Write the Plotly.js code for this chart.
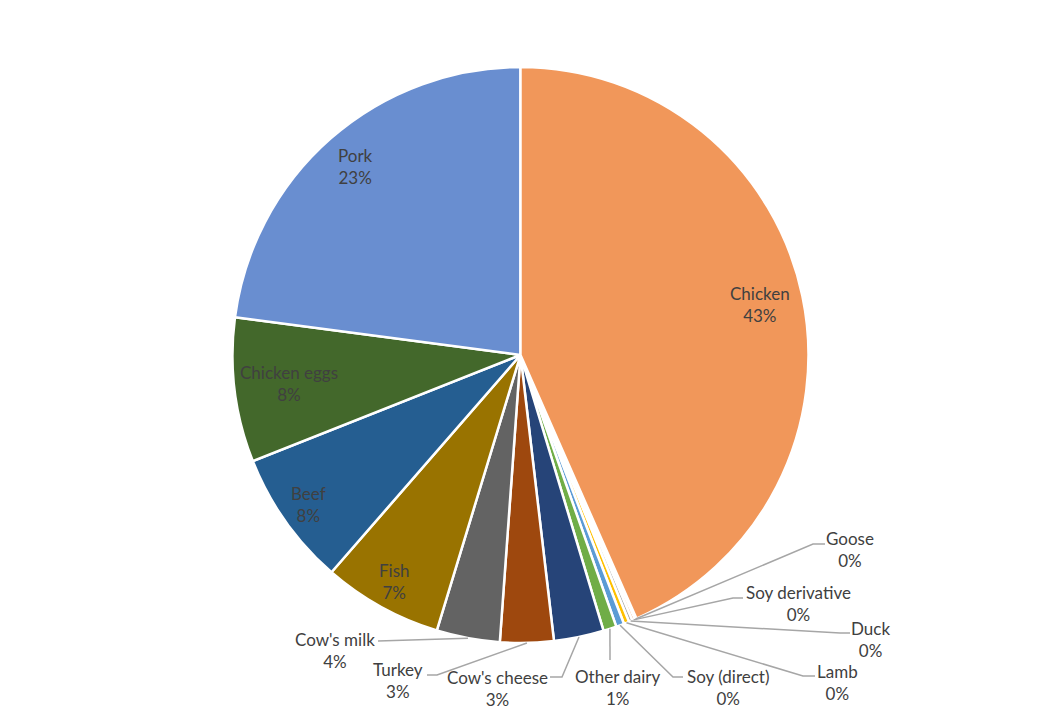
<!DOCTYPE html>
<html>
<head>
<meta charset="utf-8">
<script src="https://cdn.plot.ly/plotly-3.0.1.min.js"></script>
<style>
  html, body { margin: 0; padding: 0; background: #fff; }
  #chart { width: 1041px; height: 714px; }
</style>
</head>
<body>
<div id="chart"></div>
<script>
// data, ascending like the source sheet (first slice starts where Chicken ends)
const categories = ['Goose', 'Soy derivative', 'Duck', 'Lamb', 'Soy (direct)', 'Other dairy',
  "Cow's cheese", 'Turkey', "Cow's milk", 'Fish', 'Beef', 'Chicken eggs', 'Pork', 'Chicken'];
const shares = [0.1, 0.15, 0.2, 0.3, 0.45, 0.74, 2.8, 3.0, 3.55, 6.7, 7.6, 8.1, 22.9, 43.4];
const colors = ['#4472C4', '#ED7D31', '#A5A5A5', '#FFC000', '#5B9BD5', '#70AD47',
  '#264478', '#9E480E', '#636363', '#997300', '#255E91', '#43682B', '#698ED0', '#F1975A'];

// layout of the figure (pixels)
const W = 1041, H = 714;
const CX = 520.5, CY = 355, R = 288;

// labels drawn inside the slice, radius as a fraction of R
const insideR = {'Fish': 0.9, 'Beef': 0.9, 'Chicken eggs': 0.81, 'Pork': 0.87, 'Chicken': 0.85};

// labels drawn outside with a leader line: text centre, then line end + elbow
const outside = {
  'Goose':          {text: [850, 549], line: [[825, 544], [813, 544]]},
  'Soy derivative': {text: [798, 603], line: [[743, 598], [733, 598]]},
  'Duck':           {text: [870, 639], line: [[850, 633], [840, 633]]},
  'Lamb':           {text: [837, 682], line: [[815, 676], [803, 676]]},
  'Soy (direct)':   {text: [728, 687], line: [[683, 677], [673, 677]]},
  'Other dairy':    {text: [618, 687], line: [[610, 660], [610, 660]]},
  "Cow's cheese":   {text: [497, 688], line: [[550, 677], [562, 677]]},
  'Turkey':         {text: [398, 680], line: [[427, 675], [437, 675]]},
  "Cow's milk":     {text: [335, 650], line: [[378, 641], [378, 641]]}
};

const fx = px => px / W;
const fy = py => 1 - py / H;

const total = shares.reduce((p, c) => p + c, 0);
const rotation = 360 * shares[shares.length - 1] / total;

// mid angle of every slice, clockwise from 12 o'clock
let acc = 0;
const midAngle = shares.map(v => {
  let a = rotation + 360 * (acc + v / 2) / total;
  acc += v;
  return a % 360;
});

const polar = (ang, f) => {
  let t = ang * Math.PI / 180;
  return [CX + R * f * Math.sin(t), CY - R * f * Math.cos(t)];
};

let annotations = [];
let shapes = [];
categories.forEach((c, i) => {
  let txt = c + '<br>' + Math.round(100 * shares[i] / total) + '%';
  if (insideR[c]) {
    let p = polar(midAngle[i], insideR[c]);
    annotations.push({x: fx(p[0]), y: fy(p[1]), xref: 'paper', yref: 'paper',
      text: txt, showarrow: false, xanchor: 'center', yanchor: 'middle'});
  } else if (outside[c]) {
    let o = outside[c];
    annotations.push({x: fx(o.text[0]), y: fy(o.text[1]), xref: 'paper', yref: 'paper',
      text: txt, showarrow: false, xanchor: 'center', yanchor: 'middle'});
    let a = polar(midAngle[i], 1.0);
    let pts = [o.line[0], o.line[1], a];
    let path = 'M' + pts.map(q => fx(q[0]) + ',' + fy(q[1])).join(' L');
    shapes.push({type: 'path', xref: 'paper', yref: 'paper', path: path,
      line: {color: '#A6A6A6', width: 1.5}});
  }
});

const trace = [{
  type: 'pie',
  labels: categories,
  values: shares,
  sort: false,
  direction: 'clockwise',
  rotation: rotation,
  marker: {colors: colors, line: {color: '#ffffff', width: 2.5}},
  textinfo: 'none',
  hoverinfo: 'label+percent',
  domain: {x: [0, 1], y: [fy(CY + R), fy(CY - R)]}
}];

const layout = {
  width: W,
  height: H,
  margin: {l: 0, r: 0, t: 0, b: 0},
  showlegend: false,
  paper_bgcolor: '#ffffff',
  font: {family: 'Lato, "Open Sans", sans-serif', size: 17, color: '#404040'},
  annotations: annotations,
  shapes: shapes
};

Plotly.newPlot('chart', trace, layout, {displayModeBar: false, staticPlot: true});
</script>
</body>
</html>
